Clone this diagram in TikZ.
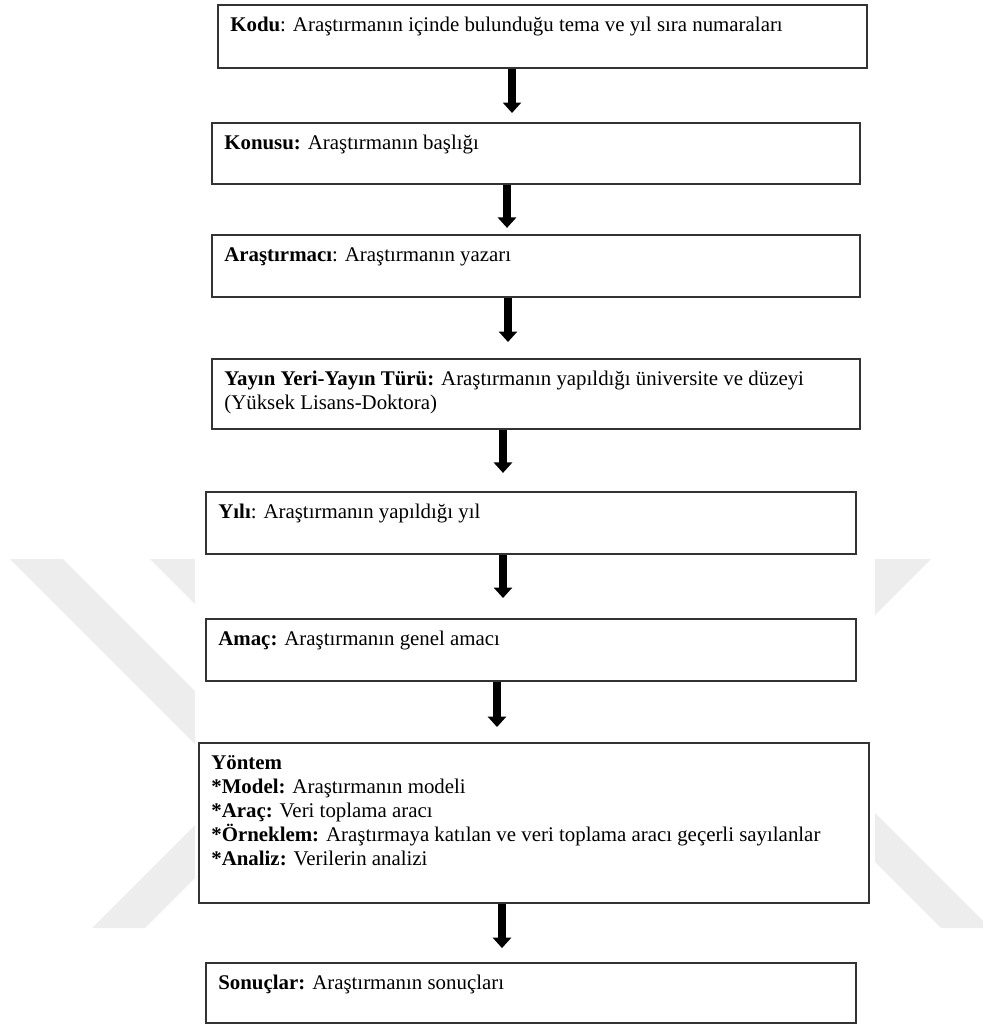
\documentclass[tikz,border=0pt]{standalone}
\usepackage{fontspec}
\setmainfont{Liberation Serif}
\usetikzlibrary{arrows.meta}
\newdimen\px \px=0.575pt
\definecolor{filigran}{gray}{0.93}
\begin{document}
\begin{tikzpicture}[
      x=0.575pt, y=-0.575pt,
      font=\fontsize{12pt}{13.8pt}\selectfont,
      kutu/.style={draw=black!80, line width=1.2pt, anchor=north west, inner sep=0pt},
      yazi/.style={anchor=north west, align=left, inner sep=0pt, xshift=13\px, yshift=-13\px},
      ok/.style={-{Triangle[width=10.4pt, length=6pt]}, line width=4.6pt}
    ]
      \useasboundingbox (0,0) rectangle (983,1026);

      % faint watermark behind the page
      \begin{scope}
        \clip (0,559) rectangle (195,928) (875,559) rectangle (983,928);
        \fill[filigran] (10,559) -- (63,559) -- (432,928) -- (379,928) -- cycle;
        \fill[filigran] (150,559) -- (203,559) -- (572,928) -- (519,928) -- cycle;
        \fill[filigran] (92,928) -- (145,928) -- (514,559) -- (461,559) -- cycle;
        \fill[filigran] (821,559) -- (931,559) -- (562,928) -- (452,928) -- cycle;
        \fill[filigran] (572,559) -- (621,559) -- (990,928) -- (941,928) -- cycle;
      \end{scope}

      \node[kutu, minimum width=649\px, minimum height=63\px,
        label={[yazi]north west:{\textbf{Kodu}: Araştırmanın içinde bulunduğu tema ve yıl sıra numaraları}}] (kodu) at (217,4) {};
      \node[kutu, minimum width=648\px, minimum height=61\px,
        label={[yazi]north west:{\textbf{Konusu:} Araştırmanın başlığı}}] (konu) at (211,122) {};
      \node[kutu, minimum width=648\px, minimum height=62\px,
        label={[yazi]north west:{\textbf{Araştırmacı}: Araştırmanın yazarı}}] (arastirmaci) at (211,234) {};
      \node[kutu, minimum width=648\px, minimum height=70\px,
        label={[yazi]north west:{\textbf{Yayın Yeri-Yayın Türü:} Araştırmanın yapıldığı üniversite ve düzeyi\\(Yüksek Lisans-Doktora)}}] (yayin) at (211,358) {};
      \node[kutu, minimum width=650\px, minimum height=62\px,
        label={[yazi]north west:{\textbf{Yılı}: Araştırmanın yapıldığı yıl}}] (yil) at (205,491) {};
      \node[kutu, minimum width=650\px, minimum height=62\px,
        label={[yazi]north west:{\textbf{Amaç:} Araştırmanın genel amacı}}] (amac) at (205,618) {};
      \node[kutu, minimum width=670\px, minimum height=160\px,
        label={[yazi]north west:{\textbf{Yöntem}\\
          \textbf{*Model:} Araştırmanın modeli\\
          \textbf{*Araç:} Veri toplama aracı\\
          \textbf{*Örneklem:} Araştırmaya katılan ve veri toplama aracı geçerli sayılanlar\\
          \textbf{*Analiz:} Verilerin analizi}}] (yontem) at (198,742) {};
      \node[kutu, minimum width=650\px, minimum height=60\px,
        label={[yazi]north west:{\textbf{Sonuçlar:} Araştırmanın sonuçları}}] (sonuc) at (205,962) {};

      \draw[ok, shorten >=5.2pt] (kodu.south -| 512,0) -- (konu.north -| 512,0);
      \draw[ok, shorten >=3.5pt] (konu.south -| 507,0) -- (arastirmaci.north -| 507,0);
      \draw[ok, shorten >=9.2pt] (arastirmaci.south -| 508,0) -- (yayin.north -| 508,0);
      \draw[ok, shorten >=10.4pt] (yayin.south -| 503,0) -- (yil.north -| 503,0);
      \draw[ok, shorten >=11.5pt] (yil.south -| 503,0) -- (amac.north -| 503,0);
      \draw[ok, shorten >=8.6pt] (amac.south -| 497,0) -- (yontem.north -| 497,0);
      \draw[ok, shorten >=8pt] (yontem.south -| 502,0) -- (sonuc.north -| 502,0);
    \end{tikzpicture}
\end{document}
